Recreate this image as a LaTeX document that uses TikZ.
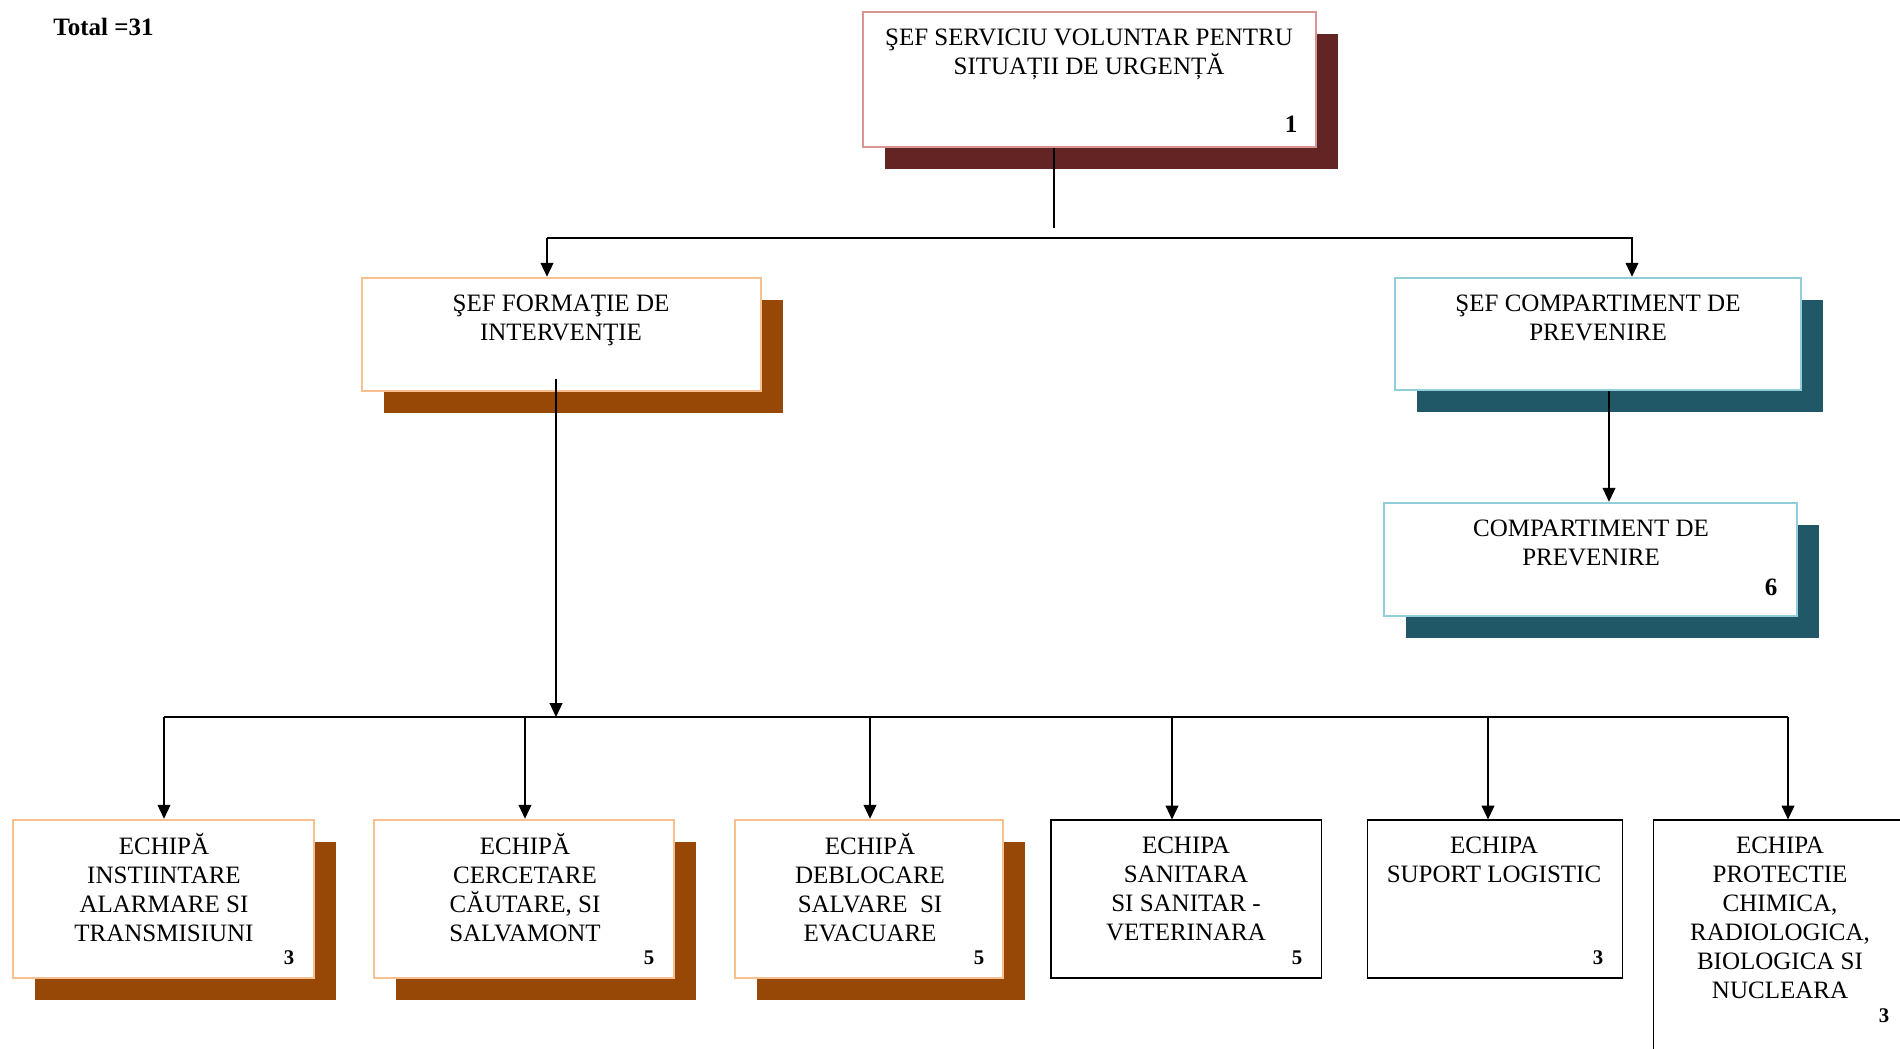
\documentclass[tikz,border=0pt]{standalone}
\usepackage{fontspec}
\setmainfont{Liberation Serif}
\usetikzlibrary{arrows.meta,fit,shadows}

\definecolor{chiefline}{HTML}{D99594}
\definecolor{chiefshade}{HTML}{632523}
\definecolor{formline}{HTML}{FABF8F}
\definecolor{formshade}{HTML}{974806}
\definecolor{compline}{HTML}{92CDDC}
\definecolor{compshade}{HTML}{215868}

\tikzset{
  cbox/.style={rectangle, draw=#1, fill=white, inner sep=0pt, line width=1.2pt},
  pbox/.style={rectangle, draw=black, fill=white, inner sep=0pt, line width=0.5pt},
  backshade/.style={general shadow={fill=#1, shadow xshift=10.6pt, shadow yshift=-10.6pt}},
  txt/.style={anchor=north, align=center, inner sep=0pt, font={\fontsize{12}{13.9}\selectfont\lineskiplimit=-100pt}},
  num/.style={inner sep=0pt, font=\fontsize{12}{13.9}\selectfont\bfseries},
  smallnum/.style={inner sep=0pt, font=\fontsize{10}{12}\selectfont\bfseries},
  arr/.style={-{Triangle[width=6.2pt,length=6.7pt]}, line width=0.6pt},
  link/.style={line width=0.6pt}
}

\begin{document}
\begin{tikzpicture}[x=0.48pt, y=-0.48pt]
\useasboundingbox (0,0) rectangle (1900,1049);
\clip (0,0) rectangle (1900,1049);

\node[num, anchor=west] (total) at (53,27) {Total =31};

% sef serviciu
\node[cbox=chiefline, backshade=chiefshade, fit={(863,12) (1316,147)}] (chief) {};
\node[txt] (chieftxt) at (1089,25) {\strut ŞEF SERVICIU VOLUNTAR PENTRU\\SITUAȚII DE URGENȚĂ};
\node[num] (chiefnr) at (1291,124) {1};

% nivel 2
\node[cbox=formline, backshade=formshade, fit={(362,278) (761,391)}] (form) {};
\node[txt] (formtxt) at (561,291) {\strut ŞEF FORMAŢIE DE\\INTERVENŢIE};
\node[cbox=compline, backshade=compshade, fit={(1395,278) (1801,390)}] (comp) {};
\node[txt] (comptxt) at (1598,291) {\strut ŞEF COMPARTIMENT DE\\PREVENIRE};
\node[cbox=compline, backshade=compshade, fit={(1384,503) (1797,616)}] (prev) {};
\node[txt] (prevtxt) at (1591,516) {\strut COMPARTIMENT DE\\PREVENIRE};
\node[num] (prevnr) at (1771,587) {6};

% echipe
\node[cbox=formline, backshade=formshade, fit={(13,820) (314,978)}] (e1) {};
\node[txt] (e1txt) at (164,833) {\strut ECHIPĂ\\INSTIINTARE\\ALARMARE SI\\TRANSMISIUNI};
\node[smallnum] (e1nr) at (289,958) {3};
\node[cbox=formline, backshade=formshade, fit={(374,820) (674,978)}] (e2) {};
\node[txt] (e2txt) at (525,833) {\strut ECHIPĂ\\CERCETARE\\CĂUTARE, SI\\SALVAMONT};
\node[smallnum] (e2nr) at (649,958) {5};
\node[cbox=formline, backshade=formshade, fit={(735,820) (1003,978)}] (e3) {};
\node[txt] (e3txt) at (870,833) {\strut ECHIPĂ\\DEBLOCARE\\SALVARE\ \ SI\\EVACUARE};
\node[smallnum] (e3nr) at (979,958) {5};
\node[pbox, fit={(1051,820) (1321,978)}] (e4) {};
\node[txt] (e4txt) at (1186,833) {\strut ECHIPA\\SANITARA\\SI SANITAR -\\VETERINARA};
\node[smallnum] (e4nr) at (1297,958) {5};
\node[pbox, fit={(1367,820) (1622,978)}] (e5) {};
\node[txt] (e5txt) at (1494,833) {\strut ECHIPA\\SUPORT LOGISTIC};
\node[smallnum] (e5nr) at (1598,958) {3};
\node[pbox, fit={(1653,820) (1907,1080)}] (e6) {};
\node[txt] (e6txt) at (1780,833) {\strut ECHIPA\\PROTECTIE\\CHIMICA,\\RADIOLOGICA,\\BIOLOGICA SI\\NUCLEARA};
\node[smallnum] (e6nr) at (1884,1016) {3};

% legaturi
\coordinate (drop) at (1054,228);
\draw[link] (chief.south -| drop) -- (drop);
\coordinate (h1) at (547,238);
\coordinate (h2) at (1632,238);
\draw[arr] (h1) -- (h1 |- form.north);
\draw[arr] (h1) -| (h2 |- comp.north);

\coordinate (cp) at (1609,0);
\draw[arr] (comp.south -| cp) -- (prev.north -| cp);

\coordinate (fstart) at (556,379);
\coordinate (bus) at (556,717);
\draw[arr] (fstart) -- (bus);
\coordinate (busL) at (164,717);
\coordinate (busR) at (1788,717);
\draw[line width=0.9pt] (busL) -- (busR);
\foreach \n/\x in {e1/164,e2/525,e3/870,e4/1172,e5/1488,e6/1788}{
  \coordinate (t\n) at (\x,717);
  \draw[arr] (t\n) -- (t\n |- \n.north);
}
\end{tikzpicture}
\end{document}
